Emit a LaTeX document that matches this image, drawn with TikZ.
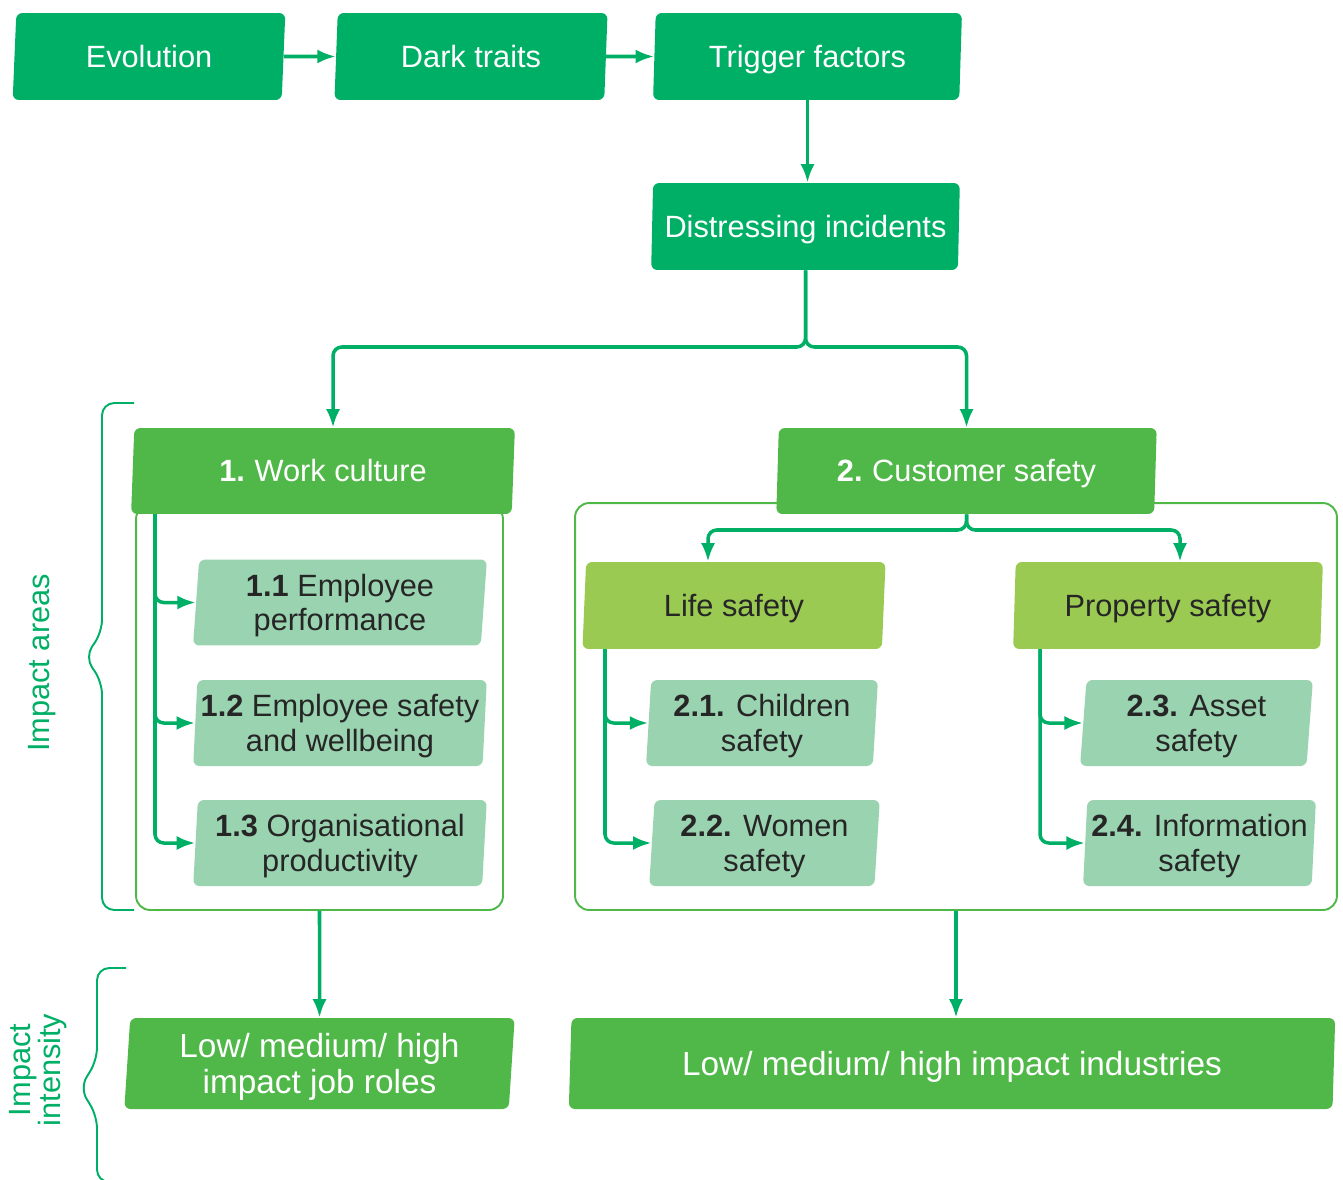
\documentclass[tikz,border=0pt]{standalone}
\usepackage{fontspec}
\setmainfont{Liberation Sans}
\usetikzlibrary{shapes.geometric, arrows.meta}
\definecolor{teal1}{HTML}{00AF66}
\definecolor{green1}{HTML}{50B848}
\definecolor{lime1}{HTML}{9ACA52}
\definecolor{mint1}{HTML}{9AD3B0}
\definecolor{ink}{HTML}{262626}
\tikzset{box/.style = {trapezium, trapezium left angle=86, trapezium right angle=94, trapezium stretches=true, rounded corners=3.5pt, inner sep=1pt, align=center, font=\fontsize{17.5}{19.5}\selectfont, text height=12.5pt, text depth=0pt}}
\tikzset{twoline/.style = {text height=32pt, text depth=0pt}}
\tikzset{topbox/.style = {box, fill=teal1, text=white, minimum height=1.74cm}}
\tikzset{areabox/.style = {box, fill=green1, text=white, minimum height=1.72cm}}
\tikzset{kindbox/.style = {box, fill=lime1, text=ink, minimum height=1.74cm}}
\tikzset{subbox/.style = {box, twoline, fill=mint1, text=ink, minimum height=1.72cm}}
\tikzset{endbox/.style = {areabox, minimum height=1.82cm, font=\fontsize{19}{20.5}\selectfont, text height=13.6pt}}
\tikzset{frame/.style = {draw=green1, line width=1.1pt, rounded corners=8pt}}
\tikzset{link/.style = {->, draw=teal1, line width=2pt, rounded corners=5pt}}
\tikzset{bracket/.style = {draw=teal1, line width=1.1pt, rounded corners=7pt}}
\tikzset{side/.style = {text=teal1, rotate=90, align=center, font=\fontsize{17.5}{17}\selectfont}}

\begin{document}
\begin{tikzpicture}[x=0.02cm, y=-0.02cm, >={Latex[length=10.5pt, width=8pt]}]
  \useasboundingbox (0,0) rectangle (1343,1180);

  \node [frame, minimum width=7.34cm, minimum height=8.1cm] (lf) at (319.5,707.5) {};
  \node [frame, minimum width=15.24cm, minimum height=8.14cm] (rf) at (956,706.5) {};

  \node [topbox, minimum width=5.48cm] (evo) at (149,56.5) {Evolution};
  \node [topbox, minimum width=5.48cm] (dark) at (471,56.5) {Dark traits};
  \node [topbox, minimum width=6.18cm] (trig) at (807.5,56.5) {Trigger factors};
  \node [topbox, minimum width=6.18cm] (dist) at (805.5,226.5) {Distressing incidents};

  \node [areabox, minimum width=7.68cm] (wc) at (323,471) {\textbf{1.}\kern-1pt{} Work culture};
  \node [areabox, minimum width=7.62cm] (cs) at (966.5,471) {\textbf{2.}\kern-1pt{} Customer safety};

  \node [subbox, minimum width=5.88cm] (s11) at (340,602.5) {\textbf{1.1} Employee\\performance};
  \node [subbox, minimum width=5.88cm] (s12) at (340,723) {\textbf{1.2} Employee safety\\and wellbeing};
  \node [subbox, minimum width=5.88cm] (s13) at (340,843) {\textbf{1.3} Organisational\\productivity};

  \node [kindbox, minimum width=6.08cm] (life) at (734,605.5) {Life safety};
  \node [kindbox, minimum width=6.2cm] (prop) at (1168,605.5) {Property safety};

  \node [subbox, minimum width=4.64cm] (s21) at (762,723) {\textbf{2.1.} Children\\safety};
  \node [subbox, minimum width=4.62cm] (s22) at (764.5,843) {\textbf{2.2.} Women\\safety};
  \node [subbox, minimum width=4.66cm] (s23) at (1196.5,723) {\textbf{2.3.} Asset\\safety};
  \node [subbox, minimum width=4.66cm] (s24) at (1199.5,843) {\textbf{2.4.} Information\\safety};

  \node [endbox, text height=34.1pt, minimum width=7.82cm] (jobs) at (319.5,1063.5) {Low/ medium/ high\\impact job roles};
  \node [endbox, minimum width=15.36cm] (ind) at (952,1063.5) {Low/ medium/ high impact industries};

  \node [side] (areas) at (42,663) {Impact areas};
  \node [side] (intens) at (38,1070) {Impact\\intensity};

  \draw [bracket] (134,403) -- (102,403) -- (102,632) -- (85,657) -- (102,682) -- (102,910) -- (134,910);
  \draw [bracket] (126,968) -- (97,968) -- (97,1060) -- (80,1088) -- (97,1116) -- (97,1182) -- (126,1182);

  \draw [link] (evo.east) -- (dark.west);
  \draw [link] (dark.east) -- (trig.west);
  \draw [link] (trig.south) -- (trig.south |- dist.north);

  \coordinate (fork) at (dist.south |- 0,347);
  \draw [link] (dist.south) -- (fork) -| ([xshift=0.2cm]wc.north);
  \draw [link] (dist.south) -- (fork) -| (cs.north);

  \coordinate (csfork) at (cs.south |- 0,530);
  \draw [link] (cs.south) -- (csfork) -| ([xshift=-0.52cm]life.north);
  \draw [link] (cs.south) -- (csfork) -| ([xshift=0.24cm]prop.north);

  \coordinate (wcspine) at (155,514);
  \draw [link] (wcspine) |- (s11.west);
  \draw [link] (wcspine) |- (s12.west);
  \draw [link] (wcspine) |- (s13.west);

  \coordinate (lifespine) at (605,649);
  \draw [link] (lifespine) |- (s21.west);
  \draw [link] (lifespine) |- (s22.west);

  \coordinate (propspine) at (1040,649);
  \draw [link] (propspine) |- (s23.west);
  \draw [link] (propspine) |- (s24.west);

  \draw [link] (lf.south) -- (jobs.north);
  \draw [link] (rf.south) -- (rf.south |- ind.north);
\end{tikzpicture}
\end{document}
